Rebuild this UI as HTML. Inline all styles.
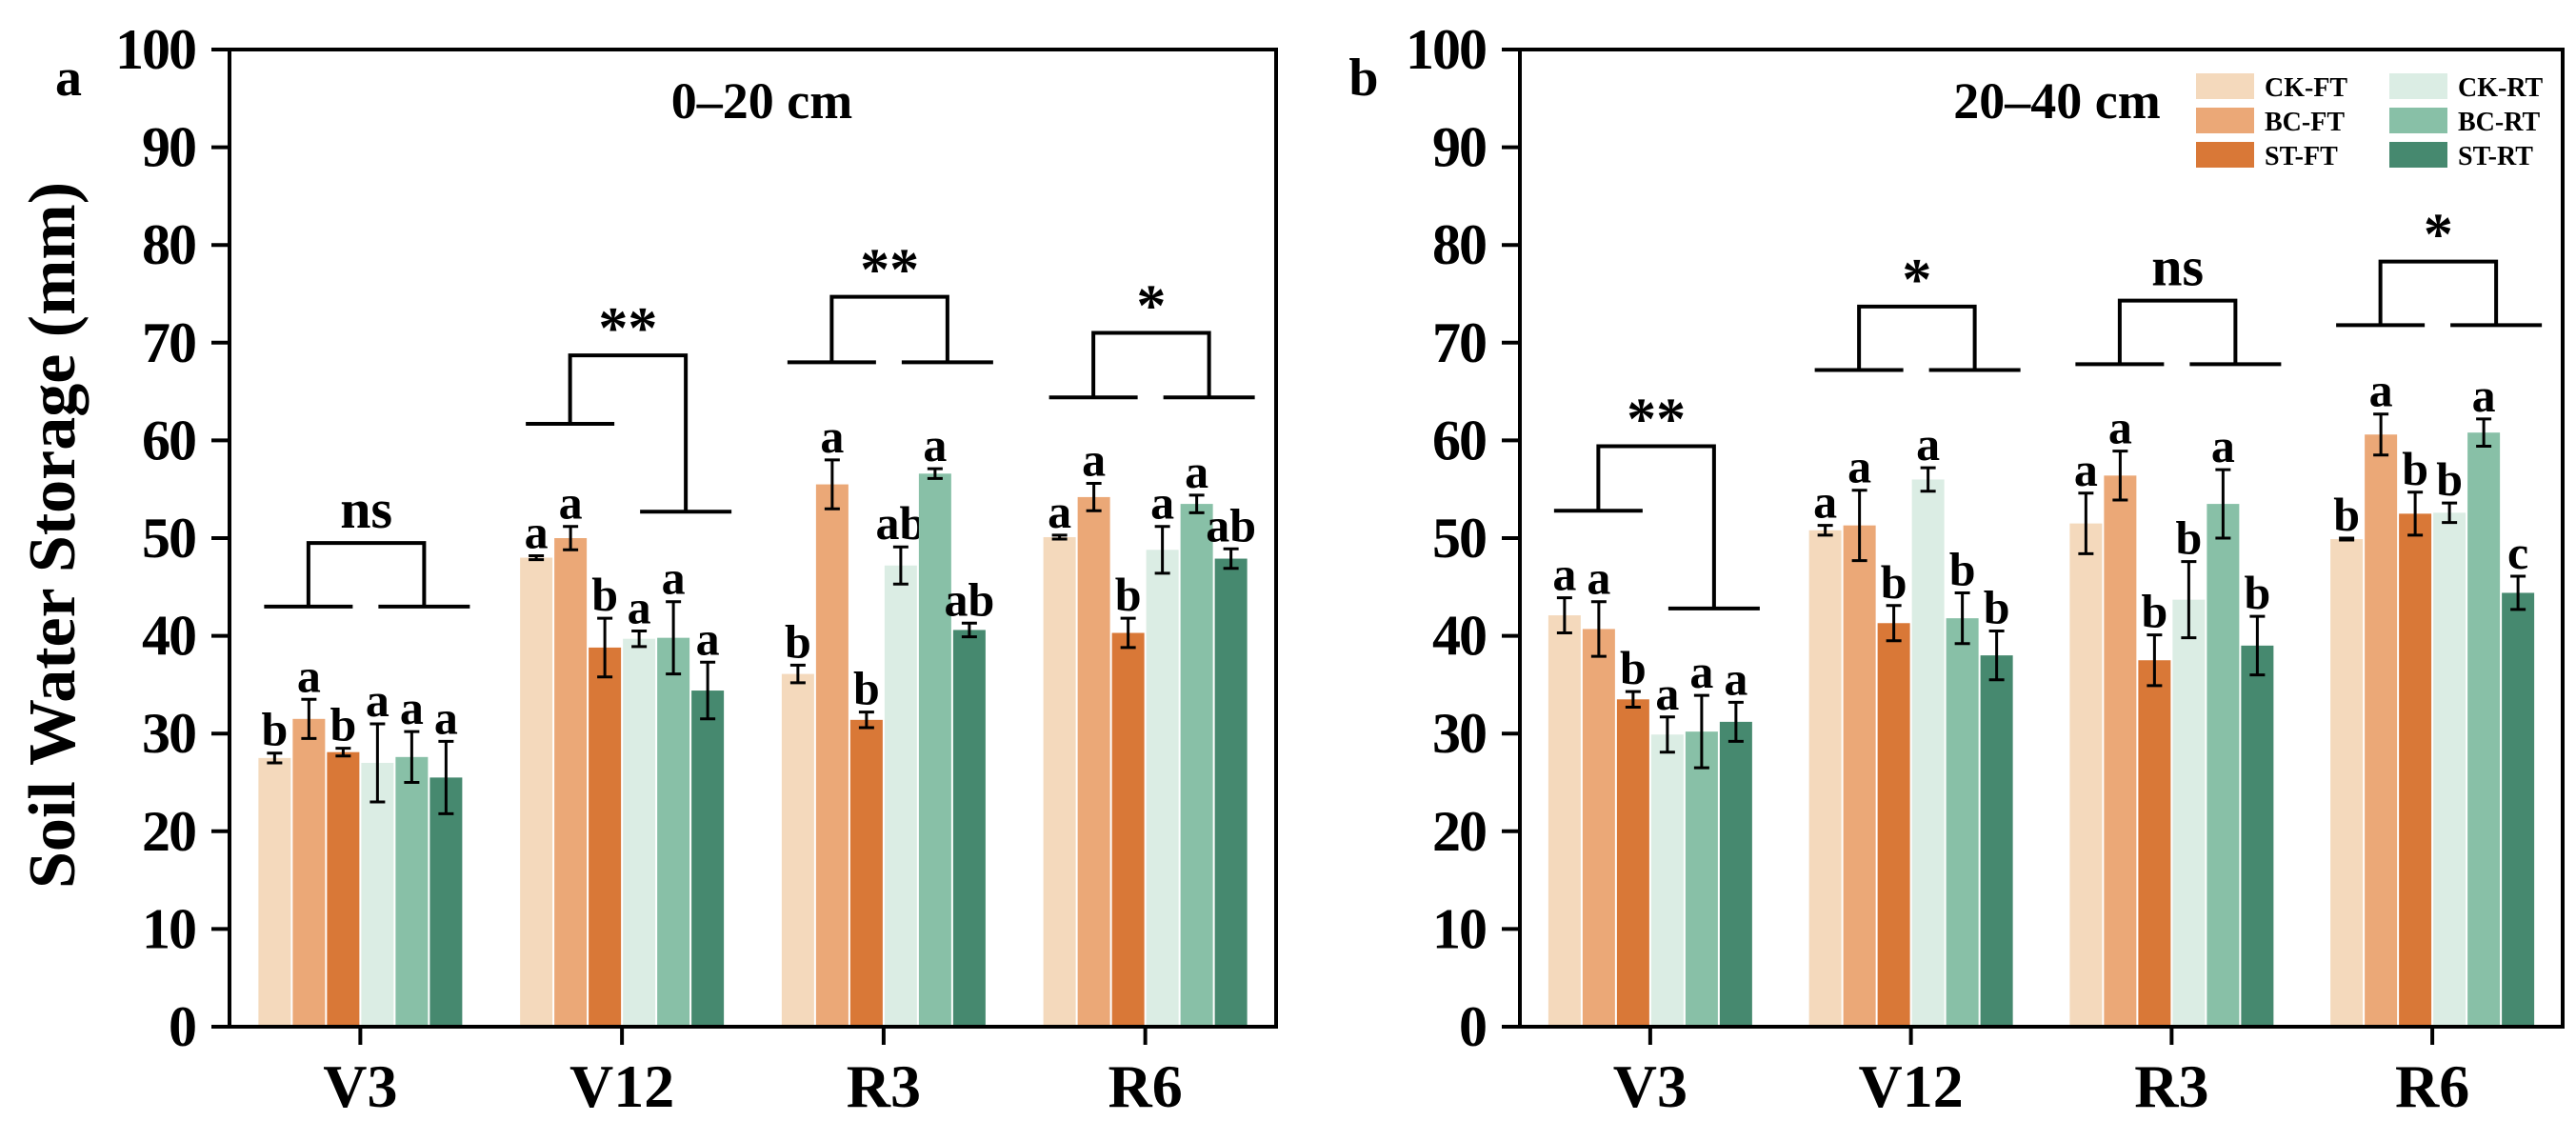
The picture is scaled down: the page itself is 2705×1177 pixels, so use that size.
<!DOCTYPE html>
<html><head><meta charset="utf-8"><style>
html,body{margin:0;padding:0;background:#fff;}
svg{display:block;font-family:"Liberation Serif",serif;font-weight:bold;}
</style></head><body>
<svg id="chart" width="2705" height="1177" viewBox="0 0 2705 1177" xmlns="http://www.w3.org/2000/svg"></svg>
<script>
const categories = ["V3","V12","R3","R6"];
const seriesNames = ["CK-FT","BC-FT","ST-FT","CK-RT","BC-RT","ST-RT"];
const seriesColors = ["#f4d9bc","#eba877","#d97837","#dbede4","#88c0a7","#46896f"];
const yTicks = [0,10,20,30,40,50,60,70,80,90,100];
// Panel a (0-20 cm)
const aValues = [[27.5,31.5,28.1,27.0,27.6,25.5],[48.0,50.0,38.8,39.7,39.8,34.4],[36.1,55.5,31.4,47.2,56.6,40.6],[50.1,54.2,40.3,48.8,53.5,47.9]];
const aErrors = [[0.5,2.0,0.4,4.0,2.6,3.7],[0.2,1.2,3.0,0.8,3.7,2.9],[0.9,2.5,0.8,1.9,0.5,0.7],[0.2,1.4,1.5,2.4,0.9,1.0]];
const aLetters = [["b","a","b","a","a","a"],["a","a","b","a","a","a"],["b","a","b","ab","a","ab"],["a","a","b","a","a","ab"]];
const aBracketLeft = [43.0,61.7,68.0,64.4];
const aBracketRight = [43.0,52.7,68.0,64.4];
const aBracketTop = [49.5,68.7,74.7,71.0];
const aSig = ["ns","**","**","*"];
// Panel b (20-40 cm)
const bValues = [[42.1,40.7,33.5,29.9,30.2,31.2],[50.8,51.3,41.3,56.0,41.8,38.0],[51.5,56.4,37.5,43.7,53.5,39.0],[49.9,60.6,52.5,52.6,60.8,44.4]];
const bErrors = [[1.8,2.8,0.8,1.8,3.7,2.0],[0.5,3.6,1.8,1.2,2.6,2.5],[3.1,2.5,2.6,3.9,3.5,3.0],[0.1,2.1,2.2,1.0,1.4,1.7]];
const bLetters = [["a","a","b","a","a","a"],["a","a","b","a","b","b"],["a","a","b","b","a","b"],["b","a","b","b","a","c"]];
const bBracketLeft = [52.8,67.2,67.8,71.8];
const bBracketRight = [42.8,67.2,67.8,71.8];
const bBracketTop = [59.4,73.7,74.3,78.3];
const bSig = ["**","*","ns","*"];

const svg = document.getElementById('chart');
const NS = "http://www.w3.org/2000/svg";
function mk(tag, attrs, parent){const e=document.createElementNS(NS,tag);for(const k in attrs)e.setAttribute(k,attrs[k]);(parent||svg).appendChild(e);return e;}

const Y0=1078, Y100=52;
function yScale(v){return Y0-(v/100)*(Y0-Y100);}

function drawPanel(p){
  const g=mk('g',{});
  
  
  const L=p.left,R=p.right,W=R-L,gw=W/categories.length;
  function xCenter(i){return L+gw*(i+0.5);}
  const pitch=36, bw=34;
  categories.forEach((c,i)=>{
    const cx=xCenter(i);
    p.values[i].forEach((v,j)=>{
      const x=cx-3*pitch+j*pitch+1;
      const r=mk('rect',{x:x,y:yScale(v),width:bw,height:yScale(0)-yScale(v),fill:seriesColors[j]},g);
      
      
      const ex=x+bw/2, e=p.errors[i][j];
      const eg=mk('path',{d:`M${ex},${yScale(v+e)}V${yScale(v-e)}M${ex-8},${yScale(v+e)}H${ex+8}M${ex-8},${yScale(v-e)}H${ex+8}`,stroke:'#000','stroke-width':3,fill:'none'},g);
      
      
      const t=mk('text',{x:ex,y:yScale(v+e)-8,'text-anchor':'middle','font-size':50},g);
      t.textContent=p.letters[i][j];
      
      
    });
    const lx1=cx-3*pitch+7, lx2=cx-8, rx1=cx+19, rx2=cx+3*pitch+7;
    const lc=(lx1+lx2)/2, rc=(rx1+rx2)/2;
    const yl=yScale(p.bl[i]), yr=yScale(p.br[i]), yt=yScale(p.bt[i]);
    const br=mk('path',{d:`M${lx1},${yl}H${lx2}M${rx1},${yr}H${rx2}M${lc},${yl}V${yt}H${rc}V${yr}`,stroke:'#000','stroke-width':4,fill:'none'},g);
    
    
    const isNs=p.sig[i]==='ns';
    const s=mk('text',{x:(lc+rc)/2,y:yt-(isNs?16:8),'text-anchor':'middle','font-size':isNs?58:62},g);
    s.textContent=p.sig[i];
    
    
    const xt=mk('line',{x1:cx,x2:cx,y1:Y0,y2:Y0+19,stroke:'#000','stroke-width':4},g);
    
    
    const xl=mk('text',{x:cx,y:1162,'text-anchor':'middle','font-size':64},g);
    xl.textContent=c;
    
    
  });
  yTicks.forEach(t=>{
    const tk=mk('line',{x1:L-19,x2:L,y1:yScale(t),y2:yScale(t),stroke:'#000','stroke-width':4},g);
    
    
    const tl=mk('text',{x:L-36,y:yScale(t)+20,'text-anchor':'end','font-size':60,'letter-spacing':-2},g);
    tl.textContent=t;
    
    
  });
  const fr=mk('rect',{x:L,y:Y100,width:W,height:Y0-Y100,fill:'none',stroke:'#000','stroke-width':4},g);
  
  
  const ti=mk('text',{x:p.titleX,y:124,'text-anchor':'middle','font-size':54},g);
  ti.textContent=p.title;
  
  
  const pl=mk('text',{x:p.letterX,y:100,'text-anchor':'middle','font-size':56},g);
  pl.textContent=p.letter;
  
  
}

drawPanel({name:'panel-a',left:241,right:1340,values:aValues,errors:aErrors,letters:aLetters,bl:aBracketLeft,br:aBracketRight,bt:aBracketTop,sig:aSig,title:'0–20 cm',titleX:800,letter:'a',letterX:72});
drawPanel({name:'panel-b',left:1596,right:2691,values:bValues,errors:bErrors,letters:bLetters,bl:bBracketLeft,br:bBracketRight,bt:bBracketTop,sig:bSig,title:'20–40 cm',titleX:2160,letter:'b',letterX:1432});

const yt=mk('text',{x:0,y:0,'text-anchor':'middle','font-size':70,transform:'translate(78,562) rotate(-90)'});
yt.textContent='Soil Water Storage (mm)';



const lg=mk('g',{});


seriesNames.forEach((n,j)=>{
  const col=Math.floor(j/3), row=j%3;
  const x=col?2509:2306, y=77+row*36;
  const e=mk('g',{},lg);
  
  
  mk('rect',{x:x,y:y,width:61,height:27,fill:seriesColors[j]},e);
  const t=mk('text',{x:x+72,y:y+24,'font-size':28},e);
  t.textContent=n;
});
</script>
</body></html>
